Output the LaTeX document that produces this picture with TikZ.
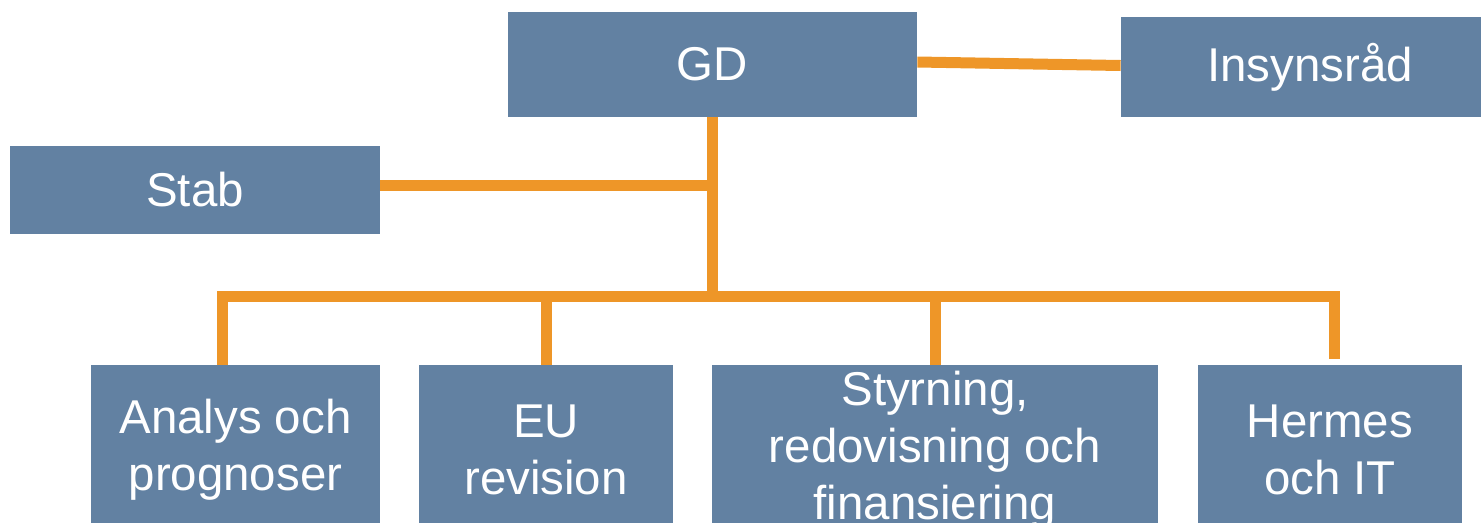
\documentclass[tikz,border=0pt]{standalone}
\usepackage{fontspec}
\setmainfont{Liberation Sans}
\definecolor{boxblue}{RGB}{98,129,162}
\definecolor{linkorange}{RGB}{238,150,40}

\begin{document}
\begin{tikzpicture}[
    unit/.style={
        fill=boxblue,
        text=white,
        inner sep=0pt,
        align=center,
        font=\fontsize{27}{32.5}\selectfont
    },
    link/.style={
        draw=linkorange,
        line width=0.22cm
    }
]
\clip (0,0) rectangle (29.62,-10.44);

% Top row
\node[unit, minimum width=8.18cm, minimum height=2.10cm] (gd) at (14.25,-1.29) {GD};
\node[unit, minimum width=7.56cm, minimum height=2.00cm] (insyn) at (26.2,-1.34) {Insynsråd};
\node[unit, minimum width=7.40cm, minimum height=1.76cm] (stab) at (3.9,-3.8) {Stab};

% Bottom row
\node[unit, minimum width=5.78cm, minimum height=3.4cm] (analys) at (4.71,-9.0) {Analys och\\prognoser};
\node[unit, minimum width=5.08cm, minimum height=3.4cm] (eu) at (10.92,-9.0) {EU\\revision};
\node[unit, minimum width=8.92cm, minimum height=3.4cm] (styr) at (18.7,-9.0) {Styrning,\\redovisning och\\finansiering};
\node[unit, minimum width=5.28cm, minimum height=3.4cm] (hermes) at (26.6,-9.0) {Hermes\\och IT};

% Lines
\coordinate (bus) at (14.25,-5.92);
\coordinate (hermesend) at (26.68,-7.18);
\draw[link] ([yshift=0.05cm]gd.east) -- ([yshift=0.03cm]insyn.west);
\draw[link] (gd.south) -- (bus);
\draw[link] ([yshift=0.1cm]stab.east) -- ([yshift=0.1cm]stab.east -| gd.south);
\draw[link] ([xshift=-0.27cm]analys.north) |- (bus) -| (hermesend);
\draw[link] (eu.north) -- (eu.north |- bus);
\draw[link] (styr.north) -- (styr.north |- bus);

\end{tikzpicture}
\end{document}
